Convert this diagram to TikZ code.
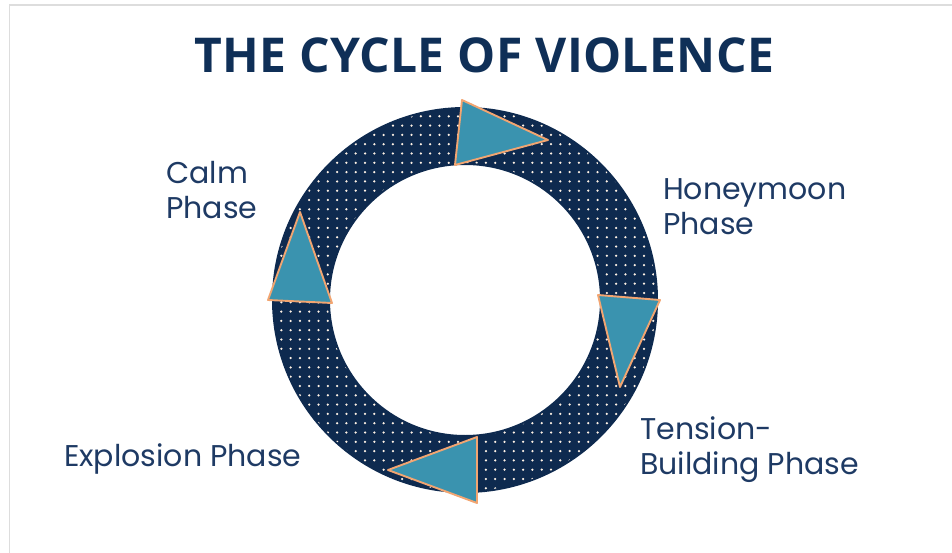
\documentclass[tikz,border=0pt]{standalone}
\usepackage{fontspec}
\newfontfamily\labfont{Poppins}
\newfontfamily\titlefont[LetterSpace=0.8]{Open Sans}
\definecolor{navy}{HTML}{0E2A4F}
\definecolor{titlecol}{HTML}{0F2F57}
\definecolor{labcol}{HTML}{1E3A64}
\definecolor{tealfill}{HTML}{3A93AF}
\definecolor{orangeedge}{HTML}{F2A571}
\definecolor{framegrey}{HTML}{DDDDDD}
\begin{document}
\begin{tikzpicture}[x=1pt,y=-1pt,
  lab/.style={anchor=north west,align=left,inner sep=0pt,text=labcol,font=\labfont\fontsize{30}{35.5}\selectfont},
  arrowtri/.style={fill=tealfill,draw=orangeedge,line width=1.9pt,line join=round}]
\useasboundingbox (0,0) rectangle (952,553);
% frame
\draw[framegrey,line width=1.5pt] (9.5,560) -- (9.5,5) -- (960,5);
% title
\node[anchor=base,inner sep=0pt,text=titlecol,font=\titlefont\bfseries\fontsize{48}{56}\selectfont] (title) at (484,73) {THE CYCLE OF VIOLENCE};
% ring
\coordinate (c) at (465,300);
\fill[navy,even odd rule] (c) circle[radius=193] (c) circle[radius=135];
\begin{scope}[even odd rule]
  \clip (c) circle[radius=191] (c) circle[radius=137];
  \foreach \i in {0,...,42}{
    \foreach \j in {0,...,42}{
      \fill[white!90!orange] ({272+9.3*\i},{107+9.3*\j}) circle[radius=1.25];
    }
  }
\end{scope}
% arrow triangles
\filldraw[arrowtri] (462,100) -- (455,165) -- (548,140) -- cycle;
\filldraw[arrowtri] (598,295) -- (660,300) -- (620,387) -- cycle;
\filldraw[arrowtri] (477,437) -- (477,503) -- (388,470) -- cycle;
\filldraw[arrowtri] (300,212) -- (268,300) -- (332,303) -- cycle;
% labels
\node[lab] (calm) at (166,161) {Calm\\Phase};
\node[lab] (honey) at (663,178) {Honeymoon\\Phase};
\node[lab] (tension) at (640,416) {Tension-\\Building Phase};
\node[lab] (explosion) at (64,443) {Explosion Phase};
\end{tikzpicture}
\end{document}
